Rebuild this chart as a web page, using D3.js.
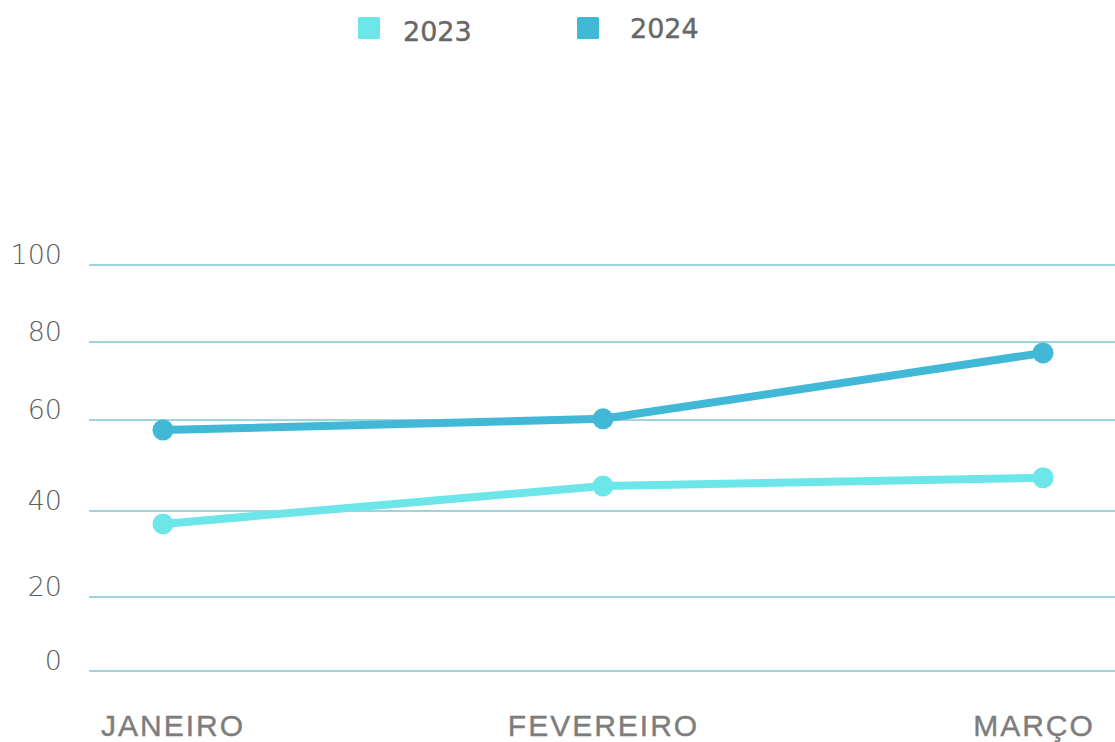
<!DOCTYPE html>
<html><head><meta charset="utf-8">
<script src="https://cdn.jsdelivr.net/npm/d3@7"></script>
<style>
html,body{margin:0;padding:0;background:#fff;}
svg{display:block;}
</style></head>
<body>
<svg id="chart" width="1115" height="742"></svg>
<script>
const categories = ["JANEIRO", "FEVEREIRO", "MARÇO"];
const seriesNames = ["2023", "2024"];
const values2023 = [37, 45.5, 47.3];
const values2024 = [57.8, 60.3, 77.2];
const yTicks = [0, 20, 40, 60, 80, 100];
const colors = ["#6ce6e8", "#42b8d7"];

const svg = d3.select("#chart");
const W = 1115;

// y scale (gridlines in the reference are unevenly spaced)
const y = d3.scaleLinear().domain(yTicks).range([671, 597, 511, 420, 342, 265]);
const x = d3.scalePoint().domain(categories).range([163, 1043]);
const xLab = d3.scalePoint().domain(categories).range([173, 1034]);

// gridlines
svg.append("g").selectAll("line").data(yTicks).join("line")
  .attr("x1", 89).attr("x2", W)
  .attr("y1", d => y(d)).attr("y2", d => y(d))
  .attr("stroke", "#9fd4dd").attr("stroke-width", 2);

// y labels
svg.append("g").selectAll("text").data(yTicks).join("text")
  .attr("x", 62).attr("y", d => y(d) - 1)
  .attr("text-anchor", "end")
  .attr("font-family", "'DejaVu Sans', sans-serif")
  .attr("font-weight", 200)
  .attr("font-size", 27)
  .attr("fill", "#5e5e5e")
  .text(d => d);

// x labels
svg.append("g").selectAll("text").data(categories).join("text")
  .attr("x", d => xLab(d)).attr("y", 736)
  .attr("text-anchor", "middle")
  .attr("font-family", "'Liberation Sans', Arial, sans-serif")
  .attr("font-size", 30)
  .attr("letter-spacing", 2)
  .attr("fill", "#7d7d7d")
  .attr("stroke", "#7d7d7d").attr("stroke-width", 0.4)
  .text(d => d);

const series = [values2023, values2024];
const line = d3.line().x((d, i) => x(categories[i])).y(d => y(d));

series.forEach((vals, si) => {
  const g = svg.append("g");
  g.append("path").datum(vals)
    .attr("d", line).attr("fill", "none")
    .attr("stroke", colors[si]).attr("stroke-width", 8)
    .attr("stroke-linejoin", "round");
  g.selectAll("circle").data(vals).join("circle")
    .attr("cx", (d, i) => x(categories[i])).attr("cy", d => y(d))
    .attr("r", 10.5).attr("fill", colors[si]);
});

// legend
const legX = [358, 577];
const legY = [17, 17];
const legTextX = [403, 630];
const legTextY = [41, 38];
seriesNames.forEach((name, i) => {
  svg.append("rect").attr("x", legX[i]).attr("y", legY[i])
    .attr("width", 22).attr("height", 22).attr("rx", 1.5)
    .attr("fill", colors[i]);
  svg.append("text").attr("x", legTextX[i]).attr("y", legTextY[i])
    .attr("font-family", "'DejaVu Sans', sans-serif")
    .attr("font-size", 27)
    .attr("fill", "#676767")
    .attr("stroke", "#676767").attr("stroke-width", 0.4)
    .text(name);
});
</script>
</body></html>
